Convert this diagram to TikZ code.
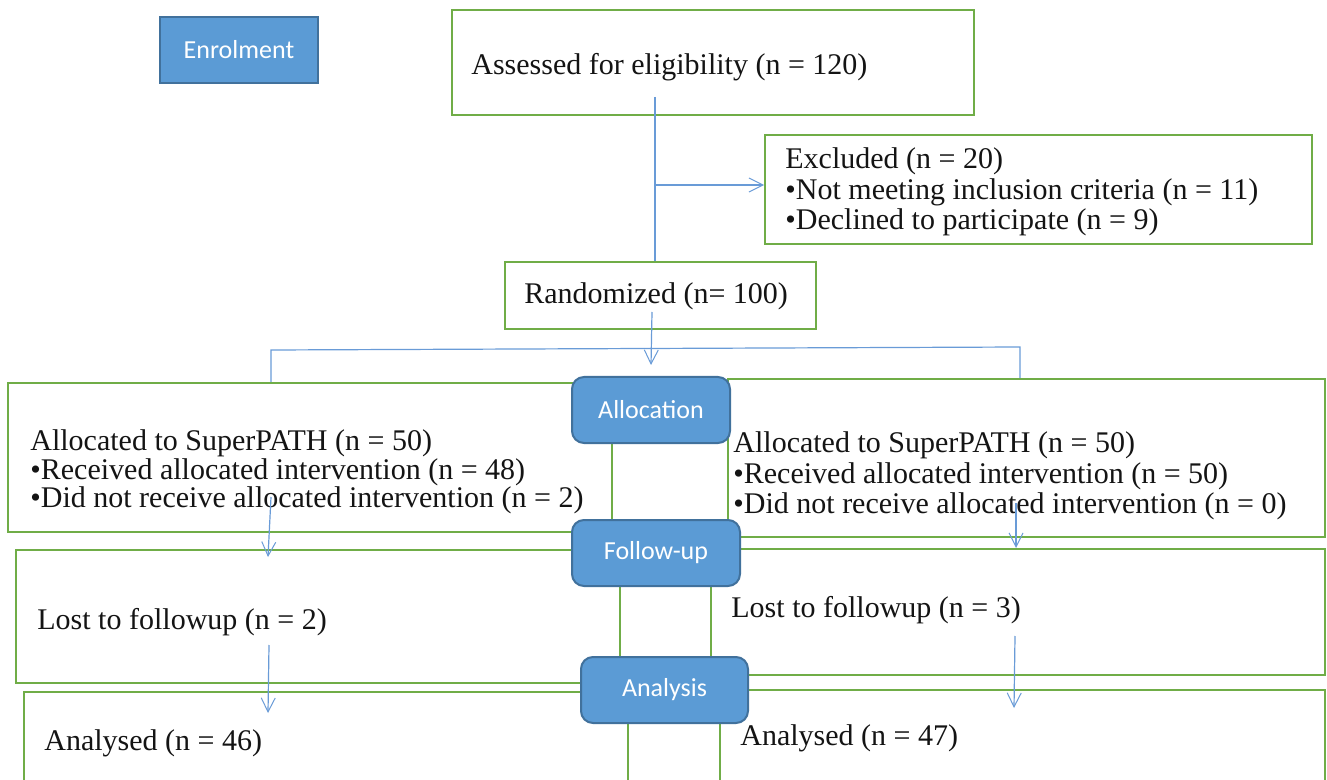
\documentclass[tikz,border=0pt]{standalone}
\usepackage{fontspec}
\setmainfont{Liberation Serif}
\newfontfamily\calfont{Carlito}
\usetikzlibrary{arrows.meta,fit}
\definecolor{gr}{RGB}{112,173,71}
\definecolor{ln}{RGB}{105,155,215}
\definecolor{pf}{RGB}{91,155,213}
\definecolor{pb}{RGB}{65,113,156}
\definecolor{tx}{RGB}{20,20,20}
\tikzset{
  gbox/.style={draw=gr, line width=1pt, inner sep=0pt, fill=white},
  phase/.style={draw=pb, line width=1pt, fill=pf, rounded corners=6pt,
    text=white, font=\calfont\fontsize{13}{15}\selectfont,
    minimum height=33pt, inner sep=0pt},
  txt/.style={anchor=west, align=left, inner sep=0pt, text=tx,
    font=\fontsize{15}{15.2}\selectfont},
  conn/.style={draw=ln, line width=0.6pt},
  arr/.style={conn, -{Straight Barb[length=7pt,width=7pt,line width=0.5pt]}},
}
\begin{document}
\begin{tikzpicture}[x=0.5pt,y=-0.5pt]
\useasboundingbox (0,0) rectangle (1327,780);
\clip (0,0) rectangle (1327,780);
% boxes
\node[gbox, fit={(452,10)(974,115)}] (assess) {};
\node[gbox, fit={(765,135)(1312,244)}] (excl) {};
\node[gbox, fit={(505,262)(816,329)}] (rand) {};
\node[gbox, fit={(8,383)(612,532)}] (allocL) {};
\node[gbox, fit={(728,379)(1325,537)}] (allocR) {};
\node[gbox, fit={(16,550)(620,683)}] (fuL) {};
\node[gbox, fit={(711,549)(1325,675)}] (fuR) {};
\node[gbox, fit={(24,692)(628,800)}] (anL) {};
\node[gbox, fit={(720,690)(1325,800)}] (anR) {};
% texts
\node[txt] (tassess) at (471,67) {Assessed for eligibility (n = 120)};
\node[txt] (texcl) at (785,192) {Excluded (n = 20)\\•Not meeting inclusion criteria (n = 11)\\•Declined to participate (n = 9)};
\node[txt] (trand) at (524,296) {Randomized (n= 100)};
\node[txt, font=\fontsize{15}{14.25}\selectfont] (tallocL) at (30,472) {Allocated to SuperPATH (n = 50)\\•Received allocated intervention (n = 48)\\•Did not receive allocated intervention (n = 2)};
\node[txt] (tallocR) at (733,476) {Allocated to SuperPATH (n = 50)\\•Received allocated intervention (n = 50)\\•Did not receive allocated intervention (n = 0)};
\node[txt] (tfuL) at (37,622) {Lost to followup (n = 2)};
\node[txt] (tfuR) at (731,610) {Lost to followup (n = 3)};
\node[txt] (tanL) at (44,743) {Analysed (n = 46)};
\node[txt] (tanR) at (740,738) {Analysed (n = 47)};
% phase labels
\node[phase, rounded corners=0pt, minimum width=79pt] (enrol) at (239,50) {Enrolment};
\node[phase, minimum width=79pt] (alloc) at (651,410) {Allocation};
\node[phase, minimum width=84pt] (fu) at (656,553) {Follow-up};
\node[phase, minimum width=83.5pt] (an) at (664.5,690) {Analysis};
% connectors
\coordinate (a1) at (655,97);
\coordinate (b1) at (654,185);
\coordinate (r1) at (652,312);
\coordinate (r2) at (651,365);
\coordinate (s1) at (271,350);
\coordinate (s2) at (1020,347);
\coordinate (l1) at (271,497);
\coordinate (l2) at (268,557);
\coordinate (m1) at (1016,503);
\coordinate (m2) at (1016,548);
\coordinate (l3) at (269,645);
\coordinate (l4) at (268,713);
\coordinate (m3) at (1015,636);
\coordinate (m4) at (1014,708);
\draw[conn] (a1) -- (a1 |- rand.north);
\draw[arr] (b1) -- (b1 -| excl.west);
\draw[arr] (r1) -- (r2);
\draw[conn] (s1 |- allocL.north) -- (s1) -- (s2) -- (s2 |- allocR.north);
\draw[arr] (l1) -- (l2);
\draw[arr] (m1) -- (m2);
\draw[arr] (l3) -- (l4);
\draw[arr] (m3) -- (m4);
\end{tikzpicture}
\end{document}
